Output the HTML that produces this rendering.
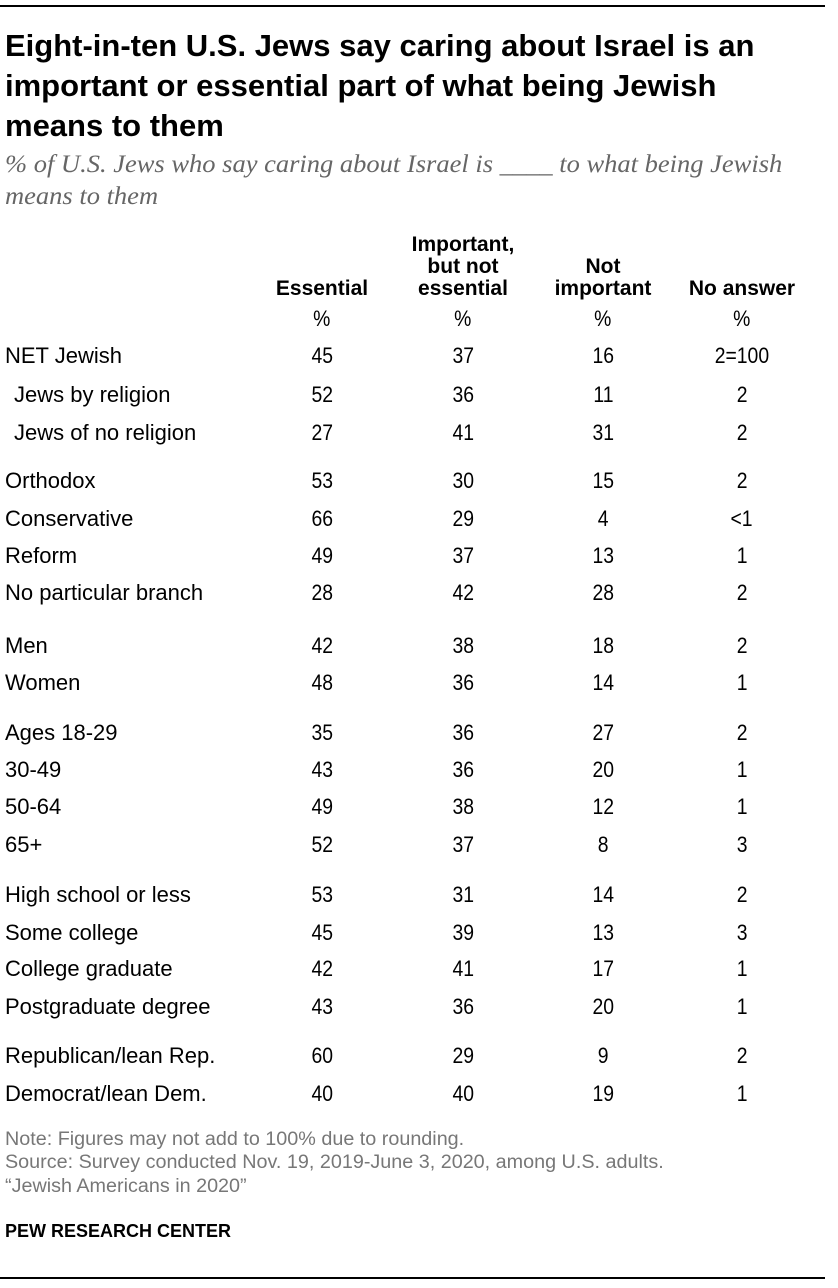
<!DOCTYPE html>
<html><head><meta charset="utf-8"><style>
body{margin:0;width:838px;height:1288px;background:#fff;position:relative;overflow:hidden;font-family:"Liberation Sans",sans-serif;color:#000}
.t{position:absolute;white-space:nowrap;line-height:1}
.s{display:inline-block;transform-origin:left}
.c{position:absolute;width:160px;text-align:center;white-space:nowrap;line-height:1;font-size:22px}
.c span{display:inline-block;transform:scaleX(0.88)}
.h{font-weight:bold;font-size:21px;line-height:22px}
.h span{transform:none}
.title{font-size:31px;font-weight:bold;left:5px}
.sub{font-family:"Liberation Serif",serif;font-style:italic;font-size:25px;color:#666;left:5px}
.sub .s{transform:scaleX(1.06)}
.lab{font-size:22px;left:5px}
.note{font-size:19px;color:#777;left:5px}
.note .s{transform:scaleX(1.04)}
.rule{position:absolute;left:0;width:825px;height:2px;background:#000}
</style></head><body>
<div class="rule" style="top:5px"></div>
<div class="t title" style="top:30px"><span class="s">Eight-in-ten U.S. Jews say caring about Israel is an</span></div>
<div class="t title" style="top:70px"><span class="s">important or essential part of what being Jewish</span></div>
<div class="t title" style="top:110px"><span class="s">means to them</span></div>
<div class="t sub" style="top:152px"><span class="s">% of U.S. Jews who say caring about Israel is ____ to what being Jewish</span></div>
<div class="t sub" style="top:184px"><span class="s">means to them</span></div>

<div class="c h" style="left:242px;top:278px"><span>Essential</span></div>
<div class="c h" style="left:383px;top:234px"><span>Important,<br>but not<br>essential</span></div>
<div class="c h" style="left:523px;top:256px"><span>Not<br>important</span></div>
<div class="c h" style="left:662px;top:278px"><span>No answer</span></div>
<div class="c" style="left:242px;top:308px"><span>%</span></div>
<div class="c" style="left:383px;top:308px"><span>%</span></div>
<div class="c" style="left:523px;top:308px"><span>%</span></div>
<div class="c" style="left:662px;top:308px"><span>%</span></div>

<div class="t lab" style="top:345px"><span class="s">NET Jewish</span></div>
<div class="c" style="left:242px;top:345px"><span>45</span></div><div class="c" style="left:383px;top:345px"><span>37</span></div><div class="c" style="left:523px;top:345px"><span>16</span></div><div class="c" style="left:662px;top:345px"><span>2=100</span></div>
<div class="t lab" style="top:384px;left:14px"><span class="s">Jews by religion</span></div>
<div class="c" style="left:242px;top:384px"><span>52</span></div><div class="c" style="left:383px;top:384px"><span>36</span></div><div class="c" style="left:523px;top:384px"><span>11</span></div><div class="c" style="left:662px;top:384px"><span>2</span></div>
<div class="t lab" style="top:422px;left:14px"><span class="s">Jews of no religion</span></div>
<div class="c" style="left:242px;top:422px"><span>27</span></div><div class="c" style="left:383px;top:422px"><span>41</span></div><div class="c" style="left:523px;top:422px"><span>31</span></div><div class="c" style="left:662px;top:422px"><span>2</span></div>
<div class="t lab" style="top:470px"><span class="s">Orthodox</span></div>
<div class="c" style="left:242px;top:470px"><span>53</span></div><div class="c" style="left:383px;top:470px"><span>30</span></div><div class="c" style="left:523px;top:470px"><span>15</span></div><div class="c" style="left:662px;top:470px"><span>2</span></div>
<div class="t lab" style="top:508px"><span class="s">Conservative</span></div>
<div class="c" style="left:242px;top:508px"><span>66</span></div><div class="c" style="left:383px;top:508px"><span>29</span></div><div class="c" style="left:523px;top:508px"><span>4</span></div><div class="c" style="left:662px;top:508px"><span>&lt;1</span></div>
<div class="t lab" style="top:545px"><span class="s">Reform</span></div>
<div class="c" style="left:242px;top:545px"><span>49</span></div><div class="c" style="left:383px;top:545px"><span>37</span></div><div class="c" style="left:523px;top:545px"><span>13</span></div><div class="c" style="left:662px;top:545px"><span>1</span></div>
<div class="t lab" style="top:582px"><span class="s">No particular branch</span></div>
<div class="c" style="left:242px;top:582px"><span>28</span></div><div class="c" style="left:383px;top:582px"><span>42</span></div><div class="c" style="left:523px;top:582px"><span>28</span></div><div class="c" style="left:662px;top:582px"><span>2</span></div>
<div class="t lab" style="top:635px"><span class="s">Men</span></div>
<div class="c" style="left:242px;top:635px"><span>42</span></div><div class="c" style="left:383px;top:635px"><span>38</span></div><div class="c" style="left:523px;top:635px"><span>18</span></div><div class="c" style="left:662px;top:635px"><span>2</span></div>
<div class="t lab" style="top:672px"><span class="s">Women</span></div>
<div class="c" style="left:242px;top:672px"><span>48</span></div><div class="c" style="left:383px;top:672px"><span>36</span></div><div class="c" style="left:523px;top:672px"><span>14</span></div><div class="c" style="left:662px;top:672px"><span>1</span></div>
<div class="t lab" style="top:722px"><span class="s">Ages 18-29</span></div>
<div class="c" style="left:242px;top:722px"><span>35</span></div><div class="c" style="left:383px;top:722px"><span>36</span></div><div class="c" style="left:523px;top:722px"><span>27</span></div><div class="c" style="left:662px;top:722px"><span>2</span></div>
<div class="t lab" style="top:759px"><span class="s">30-49</span></div>
<div class="c" style="left:242px;top:759px"><span>43</span></div><div class="c" style="left:383px;top:759px"><span>36</span></div><div class="c" style="left:523px;top:759px"><span>20</span></div><div class="c" style="left:662px;top:759px"><span>1</span></div>
<div class="t lab" style="top:796px"><span class="s">50-64</span></div>
<div class="c" style="left:242px;top:796px"><span>49</span></div><div class="c" style="left:383px;top:796px"><span>38</span></div><div class="c" style="left:523px;top:796px"><span>12</span></div><div class="c" style="left:662px;top:796px"><span>1</span></div>
<div class="t lab" style="top:834px"><span class="s">65+</span></div>
<div class="c" style="left:242px;top:834px"><span>52</span></div><div class="c" style="left:383px;top:834px"><span>37</span></div><div class="c" style="left:523px;top:834px"><span>8</span></div><div class="c" style="left:662px;top:834px"><span>3</span></div>
<div class="t lab" style="top:884px"><span class="s">High school or less</span></div>
<div class="c" style="left:242px;top:884px"><span>53</span></div><div class="c" style="left:383px;top:884px"><span>31</span></div><div class="c" style="left:523px;top:884px"><span>14</span></div><div class="c" style="left:662px;top:884px"><span>2</span></div>
<div class="t lab" style="top:922px"><span class="s">Some college</span></div>
<div class="c" style="left:242px;top:922px"><span>45</span></div><div class="c" style="left:383px;top:922px"><span>39</span></div><div class="c" style="left:523px;top:922px"><span>13</span></div><div class="c" style="left:662px;top:922px"><span>3</span></div>
<div class="t lab" style="top:958px"><span class="s">College graduate</span></div>
<div class="c" style="left:242px;top:958px"><span>42</span></div><div class="c" style="left:383px;top:958px"><span>41</span></div><div class="c" style="left:523px;top:958px"><span>17</span></div><div class="c" style="left:662px;top:958px"><span>1</span></div>
<div class="t lab" style="top:996px"><span class="s">Postgraduate degree</span></div>
<div class="c" style="left:242px;top:996px"><span>43</span></div><div class="c" style="left:383px;top:996px"><span>36</span></div><div class="c" style="left:523px;top:996px"><span>20</span></div><div class="c" style="left:662px;top:996px"><span>1</span></div>
<div class="t lab" style="top:1045px"><span class="s">Republican/lean Rep.</span></div>
<div class="c" style="left:242px;top:1045px"><span>60</span></div><div class="c" style="left:383px;top:1045px"><span>29</span></div><div class="c" style="left:523px;top:1045px"><span>9</span></div><div class="c" style="left:662px;top:1045px"><span>2</span></div>
<div class="t lab" style="top:1083px"><span class="s">Democrat/lean Dem.</span></div>
<div class="c" style="left:242px;top:1083px"><span>40</span></div><div class="c" style="left:383px;top:1083px"><span>40</span></div><div class="c" style="left:523px;top:1083px"><span>19</span></div><div class="c" style="left:662px;top:1083px"><span>1</span></div>

<div class="t note" style="top:1130px"><span class="s">Note: Figures may not add to 100% due to rounding.</span></div>
<div class="t note" style="top:1153px"><span class="s">Source: Survey conducted Nov. 19, 2019-June 3, 2020, among U.S. adults.</span></div>
<div class="t note" style="top:1177px"><span class="s">“Jewish Americans in 2020”</span></div>
<div class="t" style="top:1222px;left:5px;font-size:18px;font-weight:bold"><span class="s">PEW RESEARCH CENTER</span></div>
<div class="rule" style="top:1277px"></div>
</body></html>
